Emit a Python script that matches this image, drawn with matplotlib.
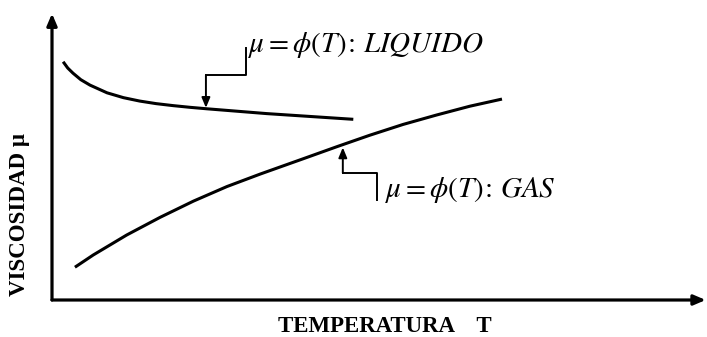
import numpy as np
import matplotlib.pyplot as plt

plt.rcParams['mathtext.fontset'] = 'stix'
plt.rcParams['font.family'] = ['Liberation Serif', 'DejaVu Serif']

# viscosity vs temperature, sketch units (0-100 on both axes)
liq_T = [1.7, 2.4, 3.2, 4.4, 5.8, 8.4, 10.9, 13.4, 15.9, 18.5, 21.1, 23.6, 32.8, 39.4, 46.0]
liq_mu = [83.6, 81.4, 79.6, 77.3, 75.4, 72.7, 71.0, 69.8, 68.9, 68.2, 67.6, 67.1, 65.4, 64.4, 63.4]

gas_T = [3.5, 6.3, 11.4, 16.5, 21.6, 26.7, 31.8, 38.4, 43.5, 48.5, 53.6, 58.7, 63.8, 68.7]
gas_mu = [11.5, 15.8, 22.8, 29.0, 34.7, 39.8, 44.2, 49.6, 53.8, 57.8, 61.6, 64.9, 68.0, 70.5]

liq_label = r'$\mu=\phi\left(T\right)\!:\,LIQUIDO$'
gas_label = r'$\mu=\phi\left(T\right)\!:\,GAS$'

fig = plt.figure(figsize=(7.07, 3.37), dpi=100)
ax = fig.add_axes([52 / 707, 37 / 337, 655 / 707, 285 / 337])
ax.set_xlim(0, 100)
ax.set_ylim(0, 100)
ax.axis('off')

# axes with arrow heads
arrow = dict(arrowstyle='-|>,head_length=0.7,head_width=0.3', color='black',
             lw=2.3, shrinkA=0, shrinkB=0)
ax.annotate('', xy=(0, 100.5), xytext=(0, 0), arrowprops=arrow, annotation_clip=False)
ax.annotate('', xy=(99.8, 0), xytext=(0, 0), arrowprops=arrow, annotation_clip=False)

ax.plot(liq_T, liq_mu, color='black', lw=2.2, solid_capstyle='butt', solid_joinstyle='round')
ax.plot(gas_T, gas_mu, color='black', lw=2.2, solid_capstyle='butt', solid_joinstyle='round')

leader = dict(arrowstyle='-|>,head_length=0.6,head_width=0.25', color='black',
              lw=1.4, shrinkA=0, shrinkB=0)

# liquid callout: step line down to the curve
lx0, lx1 = 29.6, 23.5
ax.plot([lx0, lx0, lx1], [88.5, 78.9, 78.9], color='black', lw=1.4)
ax.annotate('', xy=(lx1, np.interp(lx1, liq_T, liq_mu) + 0.3), xytext=(lx1, 78.9),
            arrowprops=leader)
ax.text(29.9, 89.5, liq_label, fontsize=21, va='center', ha='left')

# gas callout: step line up to the curve
gx0, gx1 = 44.4, 49.6
ax.plot([gx1, gx1, gx0], [35.1, 44.6, 44.6], color='black', lw=1.4)
ax.annotate('', xy=(gx0, np.interp(gx0, gas_T, gas_mu) - 1.0), xytext=(gx0, 44.6),
            arrowprops=leader)
ax.text(50.8, 38.6, gas_label, fontsize=21, va='center', ha='left')

fig.text(385 / 707, 1 - 326 / 337, 'TEMPERATURA    T', fontsize=16.5, fontweight='bold',
         ha='center', va='center')
fig.text(20 / 707, 1 - 215 / 337, 'VISCOSIDAD μ', fontsize=16.5, fontweight='bold',
         ha='center', va='center', rotation=90)

fig.savefig('out.png', dpi=100)
